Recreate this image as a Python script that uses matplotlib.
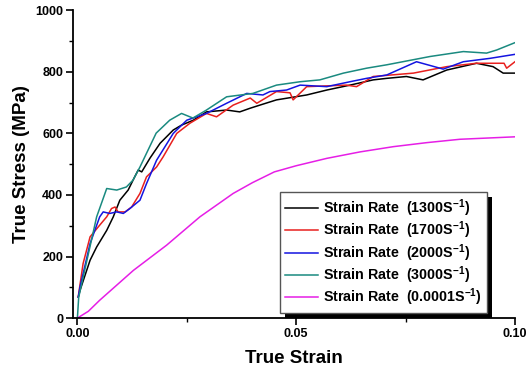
import numpy as np
import matplotlib
matplotlib.use('Agg')
import matplotlib.pyplot as plt
from matplotlib.patches import Rectangle
from matplotlib.ticker import MultipleLocator, FormatStrFormatter

plt.rcParams['font.family'] = ['Liberation Sans', 'DejaVu Sans']
plt.rcParams['font.weight'] = 'bold'
plt.rcParams['mathtext.fontset'] = 'custom'
plt.rcParams['mathtext.rm'] = 'Liberation Sans:bold'
plt.rcParams['mathtext.bf'] = 'Liberation Sans:bold'
plt.rcParams['mathtext.default'] = 'bf'

# Stress-strain curves
strain_1300 = [0.0002, 0.0006, 0.0029, 0.0044, 0.0067, 0.0082, 0.0097, 0.0116, 0.0131,
               0.0139, 0.0147, 0.0166, 0.0189, 0.0219, 0.0238, 0.0265, 0.0295, 0.0341,
               0.0371, 0.0395, 0.0417, 0.0455, 0.0524, 0.057, 0.0623, 0.0676, 0.0707,
               0.0752, 0.079, 0.0844, 0.0912, 0.095, 0.0973, 0.1]
stress_1300 = [68, 90, 188, 231, 285, 329, 383, 416, 459,
               481, 475, 520, 568, 611, 627, 643, 670, 676,
               670, 682, 692, 709, 725, 741, 757, 774, 779,
               785, 774, 806, 828, 817, 796, 796]

strain_1700 = [0.0002, 0.0013, 0.0029, 0.0051, 0.0067, 0.0078, 0.0086, 0.0093, 0.0109,
               0.0124, 0.0143, 0.0158, 0.0181, 0.0196, 0.0227, 0.0257, 0.0295, 0.0318,
               0.0356, 0.0395, 0.041, 0.0455, 0.0486, 0.0493, 0.0524, 0.0615, 0.0638,
               0.0676, 0.0768, 0.0844, 0.0912, 0.0975, 0.0981, 0.1]
stress_1700 = [70, 177, 264, 302, 329, 356, 361, 345, 345,
               361, 405, 459, 491, 524, 600, 633, 665, 654,
               692, 715, 698, 736, 732, 709, 752, 757, 752,
               785, 796, 817, 828, 828, 812, 833]

strain_2000 = [0.0002, 0.0006, 0.0029, 0.0051, 0.0059, 0.0074, 0.009, 0.0105, 0.012,
               0.0143, 0.0158, 0.0181, 0.0219, 0.025, 0.0295, 0.0341, 0.0387, 0.0424,
               0.044, 0.0478, 0.0509, 0.057, 0.0623, 0.0661, 0.0707, 0.0775, 0.0836,
               0.0882, 0.0943, 0.1]
stress_2000 = [68, 101, 242, 329, 345, 340, 345, 340, 356,
               383, 437, 513, 600, 643, 665, 698, 730, 725,
               736, 741, 757, 752, 768, 779, 790, 833, 809,
               833, 844, 857]

strain_3000 = [0.0, 0.0003, 0.0044, 0.0067, 0.009, 0.0112, 0.0127, 0.0143, 0.018,
               0.0211, 0.0238, 0.0264, 0.0295, 0.0341, 0.0401, 0.0455, 0.0509, 0.0554,
               0.0608, 0.0661, 0.0707, 0.0806, 0.0882, 0.0935, 0.0958, 0.1]
stress_3000 = [0, 68, 329, 421, 416, 426, 448, 491, 601,
               643, 665, 650, 676, 719, 730, 757, 768, 774,
               796, 812, 823, 850, 866, 861, 871, 895]

strain_quasi = [0.0, 0.0025, 0.0051, 0.0128, 0.0204, 0.028, 0.0356, 0.040, 0.045,
                0.050, 0.057, 0.0646, 0.0722, 0.0798, 0.0874, 0.1]
stress_quasi = [0, 22, 58, 155, 237, 329, 405, 440, 475,
                495, 519, 540, 557, 570, 581, 589]

labels = [r'Strain Rate  (1300S$^{-1}$)', r'Strain Rate  (1700S$^{-1}$)',
          r'Strain Rate  (2000S$^{-1}$)', r'Strain Rate  (3000S$^{-1}$)',
          r'Strain Rate  (0.0001S$^{-1}$)']
colors = ['#000000', '#e8201e', '#1414e0', '#1a8a80', '#e61ee6']

fig = plt.figure(figsize=(5.32, 3.69), dpi=100)
ax = fig.add_axes([0.137, 0.138, 0.831, 0.834])

series = [(strain_1300, stress_1300), (strain_1700, stress_1700),
          (strain_2000, stress_2000), (strain_3000, stress_3000),
          (strain_quasi, stress_quasi)]
for (x, y), c, lab in zip(series, colors, labels):
    ax.plot(x, y, color=c, lw=1.1, label=lab)

ax.set_xlim(-0.00103, 0.1)
ax.set_ylim(0, 1000)
ax.xaxis.set_major_locator(MultipleLocator(0.05))
ax.xaxis.set_minor_locator(MultipleLocator(0.025))
ax.xaxis.set_major_formatter(FormatStrFormatter('%.2f'))
ax.yaxis.set_major_locator(MultipleLocator(200))
ax.yaxis.set_minor_locator(MultipleLocator(100))

for side in ['top', 'right']:
    ax.spines[side].set_visible(False)
for side in ['left', 'bottom']:
    ax.spines[side].set_linewidth(1.3)

ax.tick_params(which='major', direction='out', length=5, width=1.2, labelsize=9, pad=2)
ax.tick_params(which='minor', direction='out', length=3, width=1.0)

ax.set_xlabel('True Strain', fontsize=13.5, fontweight='bold', labelpad=7)
ax.set_ylabel('True Stress (MPa)', fontsize=13.5, fontweight='bold', labelpad=4)

leg = ax.legend(loc='lower right', bbox_to_anchor=(0.937, 0.016), fontsize=10.3,
                frameon=True, fancybox=False, edgecolor='#555555',
                facecolor='white', framealpha=1.0,
                handlelength=2.3, handletextpad=0.35, labelspacing=0.05,
                borderpad=0.35, borderaxespad=0)
leg.get_frame().set_linewidth(1.0)
leg.set_zorder(6)

# solid black drop shadow behind the legend box
fig.canvas.draw()
bb = leg.get_window_extent().transformed(ax.transAxes.inverted())
dx = 4.5 / (ax.bbox.width)
dy = 4.5 / (ax.bbox.height)
ax.add_patch(Rectangle((bb.x0 + dx, bb.y0 - dy), bb.width, bb.height,
                       transform=ax.transAxes, facecolor='black',
                       edgecolor='none', zorder=5.5, clip_on=False))

fig.savefig('out.png', dpi=100)
